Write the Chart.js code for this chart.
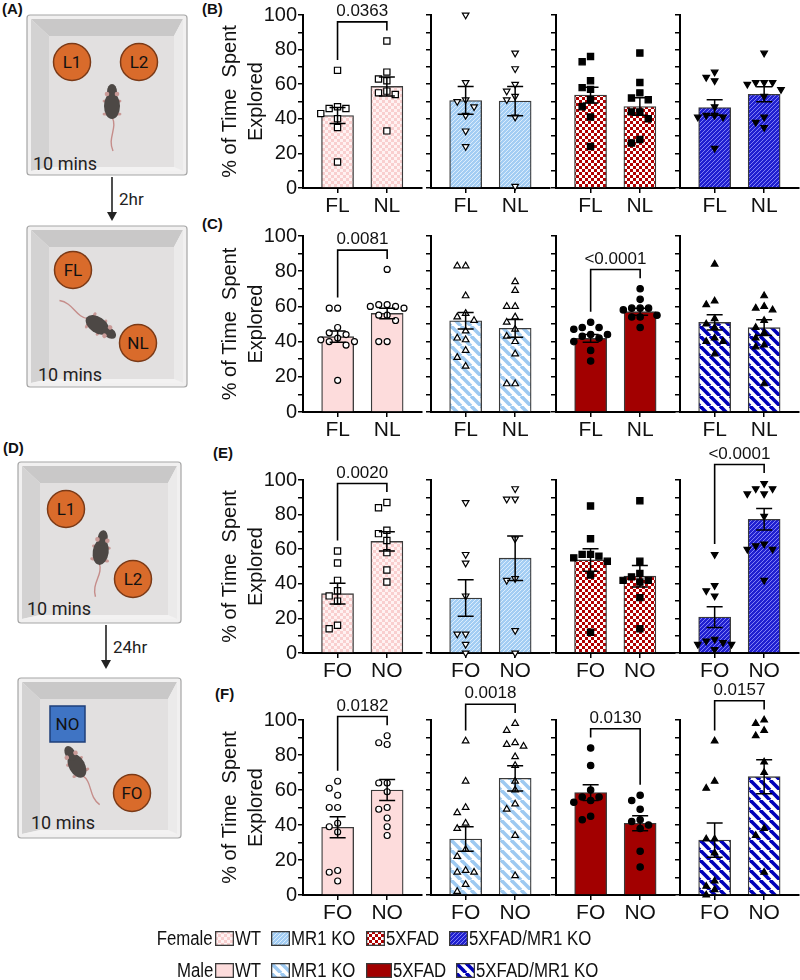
<!DOCTYPE html>
<html>
<head>
<meta charset="utf-8">
<title>Location and object memory</title>
<script src="https://cdn.jsdelivr.net/npm/chart.js@4.4.1/dist/chart.umd.min.js"></script>
<style>
  body { margin: 0; background: #fff; }
  #fig { position: relative; width: 800px; height: 980px; overflow: hidden;
         font-family: "Liberation Sans", Arial, sans-serif; color: #111; }
  #fig canvas { position: absolute; }
  .tag { position: absolute; font-weight: bold; font-size: 15px; line-height: 18px; }
  .lgrow { position: absolute; left: 0; display: flex; align-items: center;
           font-size: 20px; line-height: 22px; white-space: nowrap; }
  .lgrow .sex { width: 213px; text-align: right; }
  #fig .lgrow canvas { position: static; margin-left: 2px; }
  .lgrow .gt { display: inline-block; margin-left: 1px; margin-right: 8px; transform-origin: left center; }
</style>
</head>
<body>
<div id="fig">
  <svg id="schematic" width="195" height="860" style="position:absolute;left:0;top:0"></svg>
  <div class="tag" style="left:2px;top:0px">(A)</div>
  <div class="tag" style="left:3px;top:439px">(D)</div>
  <div class="tag" style="left:202px;top:0px">(B)</div>
  <div class="tag" style="left:202px;top:215px">(C)</div>
  <div class="tag" style="left:213px;top:444px">(E)</div>
  <div class="tag" style="left:215px;top:685px">(F)</div>
</div>
<script>
"use strict";

// ---------------- data ----------------
const locCats = ["FL", "NL"];          // familiar / novel location
const objCats = ["FO", "NO"];          // familiar / novel object
const genotypes = ["WT", "MR1 KO", "5XFAD", "5XFAD/MR1 KO"];
const sexes = ["Female", "Male"];
const yTickLabels = [0, 20, 40, 60, 80, 100];

// (B) female, 2 hr location test   [genotype][FL, NL]
const bMean = [[41.9, 58.7], [50.6, 50.2], [53.7, 47.1], [46.5, 54.2]];
const bSem  = [[4.6, 5.5], [8.0, 8.4], [4.5, 5.0], [4.5, 4.3]];
const bPts  = [
    [[68, 47, 46, 46, 43, 40, 35, 15], [85, 67, 63, 62, 56, 55, 54, 33]],
    [[100, 61, 51, 50, 47, 42, 33, 24], [78, 69, 60, 56, 53, 51, 41, 1]],
    [[76, 73, 62, 58, 57, 51, 47, 41, 24], [78, 61, 55, 52, 51, 44, 44, 40, 28, 26]],
    [[67, 64, 62, 47, 42, 42, 41, 41, 23], [78, 61, 61, 61, 60, 57, 53, 41, 38, 35]]
];
const bP = ["0.0363", null, null, null];

// (C) male, 2 hr location test
const cMean = [[42.8, 56.0], [51.8, 47.5], [41.8, 57.0], [50.9, 47.9]];
const cSem  = [[3.2, 3.0], [4.7, 5.0], [2.2, 2.0], [4.3, 4.5]];
const cPts  = [
    [[59, 59, 48, 45, 44, 42, 41, 40, 40, 38, 18], [81, 61, 61, 60, 60, 59, 55, 55, 52, 40, 40]],
    [[83, 83, 66, 56, 54, 52, 46, 42, 41, 35, 31, 26], [74, 69, 60, 60, 54, 51, 47, 43, 40, 33, 16, 16]],
    [[51, 48, 48, 47, 44, 44, 43, 42, 40, 35, 29], [70, 64, 59, 59, 59, 58, 55, 54, 54, 48]],
    [[84, 63, 61, 53, 50, 48, 42, 40, 40, 33], [66, 60, 59, 58, 52, 48, 45, 42, 38, 37, 16]]
];
const cP = ["0.0081", null, "<0.0001", null];

// (E) female, 24 hr object test
const eMean = [[34.3, 64.5], [31.8, 54.8], [53.8, 44.4], [20.8, 77.3]];
const eSem  = [[6.0, 5.6], [10.5, 12.9], [6.5, 6.2], [6.0, 6.2]];
const ePts  = [
    [[59, 52, 42, 36, 33, 30, 16, 14], [87, 84, 71, 69, 65, 58, 48, 41]],
    [[87, 57, 52, 33, 11, 11, 5, 0], [95, 89, 89, 66, 43, 42, 13, 0]],
    [[85, 66, 57, 57, 56, 55, 53, 45, 12], [88, 53, 46, 44, 42, 42, 41, 32, 14]],
    [[57, 39, 36, 33, 8, 7, 6, 5, 5, 2], [98, 95, 95, 92, 92, 79, 63, 62, 60, 60, 42]]
];
const eP = ["0.0020", null, null, "<0.0001"];

// (F) male, 24 hr object test
const fMean = [[38.7, 60.0], [32.0, 66.7], [58.5, 41.0], [31.4, 67.6]];
const fSem  = [[6.0, 6.0], [7.0, 7.2], [4.5, 4.3], [9.8, 9.7]];
const fPts  = [
    [[65, 61, 57, 50, 50, 41, 39, 36, 14, 13, 8], [91, 87, 86, 64, 64, 59, 50, 49, 44, 39, 34]],
    [[88, 65, 50, 47, 41, 38, 26, 22, 14, 13, 13, 6, 2], [98, 94, 87, 86, 85, 79, 74, 65, 60, 52, 49, 34, 11]],
    [[84, 74, 60, 56, 56, 54, 53, 45, 43], [57, 54, 49, 43, 42, 40, 38, 25, 16]],
    [[88, 65, 61, 32, 32, 24, 8, 5, 3, 0], [100, 98, 94, 91, 76, 70, 38, 34, 13]]
];
const fP = ["0.0182", "0.0018", "0.0130", "0.0157"];

const rows = [
    { sex: "F", cats: locCats, mean: bMean, sem: bSem, pts: bPts, p: bP },
    { sex: "M", cats: locCats, mean: cMean, sem: cSem, pts: cPts, p: cP },
    { sex: "F", cats: objCats, mean: eMean, sem: eSem, pts: ePts, p: eP },
    { sex: "M", cats: objCats, mean: fMean, sem: fSem, pts: fPts, p: fP }
];

// ---------------- layout (pixels) ----------------
const rowTop    = [15, 236, 480, 720];     // where 100 % sits
const rowBottom = [188, 412, 653, 895];    // where 0 % sits
const axisX = [303, 431, 556, 680];
const firstX = 35, stepX = 50, plotW = 120;
const padTop = 50, padRight = 4, xAxisH = 32;

Chart.defaults.font.family = '"Liberation Sans", Arial, sans-serif';
const fig = document.getElementById("fig");

// ---------------- bar fills ----------------
function checker(cell, a, b) {
    const c = document.createElement("canvas");
    c.width = c.height = cell * 2;
    const g = c.getContext("2d");
    g.fillStyle = b; g.fillRect(0, 0, cell * 2, cell * 2);
    g.fillStyle = a; g.fillRect(0, 0, cell, cell); g.fillRect(cell, cell, cell, cell);
    return g.createPattern(c, "repeat");
}
function stripes(size, bg, fg, lw, dir) {
    const c = document.createElement("canvas");
    c.width = c.height = size;
    const g = c.getContext("2d");
    g.fillStyle = bg; g.fillRect(0, 0, size, size);
    g.strokeStyle = fg; g.lineWidth = lw;
    for (let k = -1; k <= 1; k++) {
        g.beginPath();
        if (dir === "/") { g.moveTo(k * size, size); g.lineTo(k * size + size, 0); }
        else { g.moveTo(k * size, 0); g.lineTo(k * size + size, size); }
        g.stroke();
    }
    return g.createPattern(c, "repeat");
}
const fills = {
    F: [checker(3, "#f9cfcf", "#fff2f2"),
        stripes(4, "#a3cdf3", "#dcedfc", 1, "/"),
        checker(3, "#b00000", "#ffffff"),
        stripes(4, "#2020d0", "#8080f5", 1, "/")],
    M: ["#fddcdc",
        stripes(10, "#ffffff", "#9dc9f1", 3.6, "\\"),
        "#a20000",
        stripes(10, "#ffffff", "#0000b8", 3.6, "\\")]
};
const markers = {
    F: [{ style: "rect", rot: 0, r: 4.4, filled: false },
        { style: "triangle", rot: 180, r: 3.8, filled: false },
        { style: "rect", rot: 0, r: 4.4, filled: true },
        { style: "triangle", rot: 180, r: 3.8, filled: true }],
    M: [{ style: "circle", rot: 0, r: 3, filled: false },
        { style: "triangle", rot: 0, r: 3.8, filled: false },
        { style: "circle", rot: 0, r: 3.2, filled: true },
        { style: "triangle", rot: 0, r: 3.8, filled: true }]
};

// simple beeswarm: horizontal pixel offsets so markers don't overlap
function swarm(vals, ppu, d) {
    const placed = [];
    return vals.map(v => {
        const y = v * ppu;
        let off = 0;
        for (let i = 0; i < 30; i++) {
            off = i === 0 ? 0 : (i % 2 ? -1 : 1) * Math.ceil(i / 2) * d;
            if (placed.every(p => Math.abs(p.y - y) >= d || Math.abs(p.x - off) >= d)) break;
        }
        placed.push({ x: off, y: y });
        return off;
    });
}

// ---------------- one chart per genotype panel ----------------
rows.forEach((row, r) => {
    const plotH = rowBottom[r] - rowTop[r];
    const ppu = plotH / 100;

    genotypes.forEach((gName, g) => {
        const yW = g === 0 ? 110 : 10;
        const cv = document.createElement("canvas");
        cv.width = yW + plotW + padRight;
        cv.height = padTop + plotH + xAxisH;
        cv.style.left = (axisX[g] - yW) + "px";
        cv.style.top = (rowTop[r] - padTop) + "px";
        fig.appendChild(cv);

        const points = [];
        row.pts[g].forEach((vals, i) => {
            const offs = swarm(vals, ppu, 8.5);
            vals.forEach((v, k) => points.push({ x: i + offs[k] / stepX, y: v }));
        });
        const mk = markers[row.sex][g];

        // SEM whiskers on top of bars and dots
        const errorBars = {
            id: "errorBars",
            afterDatasetsDraw(chart) {
                const { ctx, scales: { x, y } } = chart;
                ctx.save();
                ctx.strokeStyle = "#000";
                ctx.lineWidth = 1.5;
                row.mean[g].forEach((m, i) => {
                    const xc = x.getPixelForValue(i);
                    const y1 = y.getPixelForValue(m + row.sem[g][i]);
                    const y2 = y.getPixelForValue(m - row.sem[g][i]);
                    ctx.beginPath();
                    ctx.moveTo(xc, y1); ctx.lineTo(xc, y2);
                    ctx.moveTo(xc - 8, y1); ctx.lineTo(xc + 8, y1);
                    ctx.moveTo(xc - 8, y2); ctx.lineTo(xc + 8, y2);
                    ctx.stroke();
                });
                ctx.restore();
            }
        };

        // significance bracket with p value
        const bracket = {
            id: "bracket",
            afterDraw(chart) {
                const p = row.p[g];
                if (!p) return;
                const { ctx, scales: { x, y } } = chart;
                const leg1 = Math.max(...row.pts[g][0]) + 6;
                const leg2 = Math.max(...row.pts[g][1]) + 6;
                const top = Math.max(leg1, leg2) + 5;
                const x1 = x.getPixelForValue(0), x2 = x.getPixelForValue(1);
                const yt = y.getPixelForValue(top);
                ctx.save();
                ctx.strokeStyle = "#000";
                ctx.lineWidth = 1.6;
                ctx.beginPath();
                ctx.moveTo(x1, y.getPixelForValue(leg1));
                ctx.lineTo(x1, yt); ctx.lineTo(x2, yt);
                ctx.lineTo(x2, y.getPixelForValue(leg2));
                ctx.stroke();
                ctx.fillStyle = "#111";
                ctx.font = '17px "Liberation Sans", Arial, sans-serif';
                ctx.textAlign = "center";
                ctx.textBaseline = "bottom";
                ctx.fillText(p, (x1 + x2) / 2, yt - 2);
                ctx.restore();
            }
        };

        new Chart(cv, {
            type: "bar",
            data: {
                datasets: [
                    {
                        type: "scatter",
                        data: points,
                        pointStyle: mk.style,
                        pointRotation: mk.rot,
                        pointRadius: mk.r,
                        pointBackgroundColor: mk.filled ? "#000" : "#fff",
                        pointBorderColor: "#000",
                        pointBorderWidth: 1.2,
                        clip: false,
                        order: 1
                    },
                    {
                        type: "bar",
                        data: row.mean[g].map((m, i) => ({ x: i, y: m })),
                        backgroundColor: fills[row.sex][g],
                        borderColor: "#3a3a3a",
                        borderWidth: 1.3,
                        barThickness: 32,
                        order: 2
                    }
                ]
            },
            options: {
                responsive: false,
                animation: false,
                events: [],
                layout: { padding: { top: padTop, right: padRight, left: 0, bottom: 0 } },
                plugins: { legend: { display: false }, tooltip: { enabled: false } },
                scales: {
                    x: {
                        type: "linear",
                        min: -firstX / stepX,
                        max: (plotW - firstX) / stepX,
                        offset: false,
                        afterBuildTicks: s => { s.ticks = row.cats.map((c, i) => ({ value: i })); },
                        afterFit: s => { s.height = xAxisH; },
                        ticks: {
                            callback: (v, i) => row.cats[i],
                            font: { size: 21 },
                            color: "#111",
                            padding: 1,
                            maxRotation: 0,
                            autoSkip: false
                        },
                        grid: { display: true, offset: false, drawOnChartArea: false, drawTicks: true,
                                tickLength: 5, color: "#000", lineWidth: 1.5 },
                        border: { display: true, color: "#000", width: 2 }
                    },
                    y: {
                        min: 0,
                        max: 100,
                        afterFit: s => { s.width = yW; },
                        ticks: {
                            stepSize: 10,
                            autoSkip: false,
                            callback: v => (g === 0 && yTickLabels.includes(v)) ? v : "",
                            font: { size: 20 },
                            color: "#111",
                            padding: 1
                        },
                        grid: { display: true, drawOnChartArea: false, drawTicks: true,
                                tickLength: 5, color: "#000", lineWidth: 1.5 },
                        border: { display: true, color: "#000", width: 2 },
                        title: {
                            display: g === 0,
                            text: ["% of Time  Spent", "Explored"],
                            font: { size: 20, lineHeight: 1.3 },
                            color: "#111",
                            padding: { top: 24, bottom: 0 }
                        }
                    }
                }
            },
            plugins: [errorBars, bracket]
        });
    });
});

// ---------------- legend ----------------
const legendY = [938, 970];                       // row centres
const swatchW = { F: [19, 19, 19, 19], M: [19, 19, 26, 19] };
const squeeze = 0.84;                             // legend text is set condensed

["F", "M"].forEach((sex, s) => {
    const line = document.createElement("div");
    line.className = "lgrow";
    line.style.top = (legendY[s] - 11) + "px";
    const lab = document.createElement("span");
    lab.className = "sex";
    line.appendChild(lab);
    const labText = document.createElement("span");
    labText.style.display = "inline-block";
    labText.style.transformOrigin = "right center";
    labText.style.transform = `scaleX(${squeeze})`;
    labText.textContent = sexes[s];
    lab.appendChild(labText);

    const texts = [];
    genotypes.forEach((gName, g) => {
        const sw = document.createElement("canvas");
        sw.width = swatchW[sex][g];
        sw.height = 15;
        const sg = sw.getContext("2d");
        sg.fillStyle = fills[sex][g];
        sg.fillRect(0, 0, sw.width, sw.height);
        sg.strokeStyle = "#3a3a3a";
        sg.lineWidth = 1.3;
        sg.strokeRect(0.65, 0.65, sw.width - 1.3, sw.height - 1.3);
        line.appendChild(sw);

        const t = document.createElement("span");
        t.className = "gt";
        t.textContent = gName;
        line.appendChild(t);
        texts.push(t);
    });
    fig.appendChild(line);
    texts.forEach(t => {
        const w = t.getBoundingClientRect().width;
        t.style.width = (w * squeeze) + "px";
        t.style.transform = `scaleX(${squeeze})`;
    });
});

// ---------------- test arenas (schematic) ----------------
function arena(x, y, w, h) {
    const ix = x + 4, iy = y + 4, ix2 = x + w - 4, iy2 = y + h - 4;
    const fx = x + 22, fy = y + 21, fx2 = x + w - 13, fy2 = y + h - 8;
    return `<rect x="${x}" y="${y}" width="${w}" height="${h}" rx="3" fill="#f1f0f0" stroke="#a6a6a6" stroke-width="1.2"/>
      <polygon points="${ix},${iy} ${ix2},${iy} ${fx2},${fy} ${fx},${fy}" fill="#c9c8c8"/>
      <polygon points="${ix},${iy} ${fx},${fy} ${fx},${fy2} ${ix},${iy2}" fill="#d3d2d2"/>
      <polygon points="${ix2},${iy} ${ix2},${iy2} ${fx2},${fy2} ${fx2},${fy}" fill="#ebeaea"/>
      <polygon points="${ix},${iy2} ${fx},${fy2} ${fx2},${fy2} ${ix2},${iy2}" fill="#f3f2f2"/>
      <rect x="${fx}" y="${fy}" width="${fx2 - fx}" height="${fy2 - fy}" fill="#e2e0e0"/>`;
}
function disc(cx, cy, label) {
    return `<circle cx="${cx}" cy="${cy}" r="18.5" fill="#d96b2b" stroke="#7b3a17" stroke-width="1.5"/>
      <text x="${cx}" y="${cy + 6}" text-anchor="middle" font-size="17" fill="#111">${label}</text>`;
}
function mouse(cx, cy, ang) {
    return `<g transform="translate(${cx},${cy}) rotate(${ang})">
      <path d="M0,13 C6,24 -5,34 1,47" fill="none" stroke="#c58d8a" stroke-width="1.4"/>
      <ellipse cx="-7" cy="-3" rx="2.5" ry="1.6" fill="#c99a97"/>
      <ellipse cx="7" cy="-3" rx="2.5" ry="1.6" fill="#c99a97"/>
      <ellipse cx="-7" cy="10" rx="2.5" ry="1.6" fill="#c99a97"/>
      <ellipse cx="7" cy="10" rx="2.5" ry="1.6" fill="#c99a97"/>
      <ellipse cx="0" cy="2" rx="8" ry="13" fill="#4d4845"/>
      <ellipse cx="0" cy="-12" rx="5" ry="8" fill="#4d4845"/>
      <circle cx="-5" cy="-10" r="2.3" fill="#c99a97"/>
      <circle cx="5" cy="-10" r="2.3" fill="#c99a97"/>
    </g>`;
}
function arrow(x, y1, y2, label) {
    return `<line x1="${x}" y1="${y1}" x2="${x}" y2="${y2 - 8}" stroke="#222" stroke-width="1.6"/>
      <polygon points="${x - 5},${y2 - 9} ${x + 5},${y2 - 9} ${x},${y2}" fill="#222"/>
      <text x="${x + 7}" y="${(y1 + y2) / 2 + 6}" font-size="17" fill="#222">${label}</text>`;
}
function mins(x, y) {
    return `<text x="${x}" y="${y}" font-size="18" fill="#222">10 mins</text>`;
}

document.getElementById("schematic").innerHTML = `
  <g font-family="Roboto, 'Noto Sans', sans-serif">
    ${arena(27, 15, 160, 160)}
    ${disc(72, 62, "L1")}${disc(139, 62, "L2")}
    ${mouse(112, 104, 0)}
    ${mins(33, 170)}
    ${arrow(112, 177, 221, "2hr")}
    ${arena(27, 226, 160, 161)}
    ${disc(73, 270, "FL")}${disc(138, 343, "NL")}
    ${mouse(99, 326, 124)}
    ${mins(38, 381)}

    ${arena(18, 462, 163, 161)}
    ${disc(66, 509, "L1")}${disc(133, 579, "L2")}
    ${mouse(101, 550, 8)}
    ${mins(27, 615)}
    ${arrow(106, 625, 669, "24hr")}
    ${arena(18, 678, 163, 160)}
    <rect x="50" y="706" width="35" height="36" fill="#3f74c4" stroke="#1f3f7a" stroke-width="1.5"/>
    <text x="67.5" y="730" text-anchor="middle" font-size="17" fill="#111">NO</text>
    ${disc(132, 793, "FO")}
    ${mouse(76, 764, -29)}
    ${mins(31, 829)}
  </g>`;
</script>
</body>
</html>
